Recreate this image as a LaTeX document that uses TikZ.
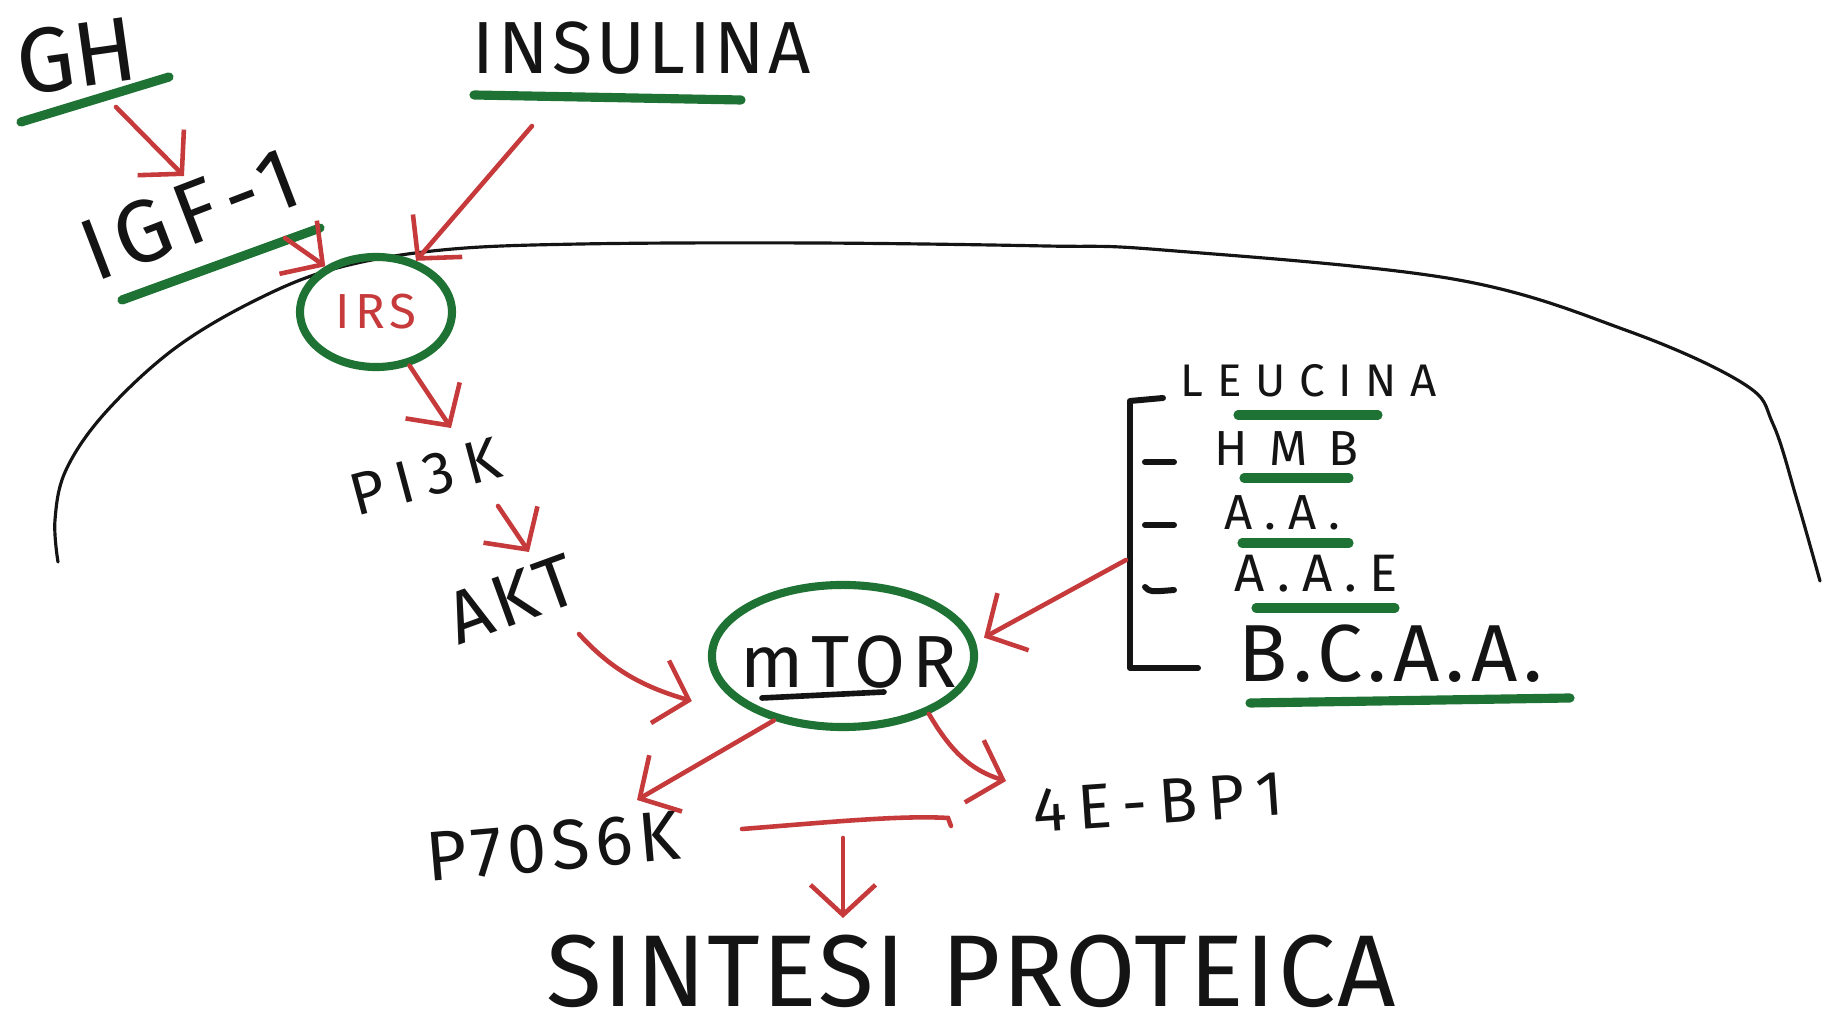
\documentclass[tikz,border=0pt]{standalone}
\usepackage{fontspec}
\setmainfont{Fira Sans}
\newfontfamily\hand{Fira Sans}
\usetikzlibrary{arrows.meta,shapes.geometric,calc}
\definecolor{mkred}{HTML}{C63A3B}
\definecolor{mkgreen}{HTML}{1E7234}
\definecolor{mkblack}{HTML}{141414}

\tikzset{
  hw/.style 2 args={inner sep=0pt, text=mkblack,
    font={\hand\fontsize{#1}{#1}\selectfont\addfontfeature{LetterSpace=#2}}},
  ring/.style={ellipse, draw=mkgreen, line width=2.3pt, inner sep=0pt},
  arr/.style={draw=mkred, line width=1.3pt, line cap=round,
    -{Straight Barb[length=3mm,width=6.5mm,line width=1.3pt]}},
  redline/.style={draw=mkred, line width=1.3pt, line cap=round},
  uline/.style={draw=mkgreen, line width=2.6pt, line cap=round},
  membrane/.style={draw=mkblack, line width=0.9pt, line cap=round},
  bracket/.style={draw=mkblack, line width=1.7pt, line cap=round, line join=round},
}

\begin{document}
\begin{tikzpicture}[x=0.01cm, y=-0.01cm]
\useasboundingbox (0,0) rectangle (1823,1028);
\fill[white] (0,0) rectangle (1823,1028);

% cell membrane
\draw[membrane] plot[smooth, tension=0.6] coordinates {
  (58,562) (55,520) (66,470) (105,413) (174,349) (256,300) (337,268)
  (442,250) (581,244) (814,243) (1046,246) (1163,250) (1453,279)
  (1628,331) (1744,384) (1773,424) (1797,500) (1820,581)};

% hormones
\node[hw={26}{0}, rotate=8] (gh) at (76,56) {GH};
\draw[uline] (21,122) -- (169,77);
\node[hw={21}{5}] (insulina) at (642,48) {INSULINA};
\draw[uline] (474,95) -- (741,100);
\node[hw={25}{10}, rotate=21] (igf) at (190,214) {IGF-1};
\draw[uline] (122,300) -- (320,228);

% receptor substrate and kinase cascade
\node[ring, minimum width=1.52cm, minimum height=1.10cm] (irs) at (376,312) {};
\node[hw={14}{10}, text=mkred] (irstxt) at (irs) {IRS};
\node[hw={17}{20}, rotate=15] (pik) at (425,477) {PI3K};
\node[hw={21}{5}, rotate=20] (akt) at (512,599) {AKT};
\node[ring, minimum width=2.62cm, minimum height=1.42cm] (mtor) at (843,656) {};
\node[hw={21}{10}] (mtortxt) at (849,662) {mTOR};
\draw[draw=mkblack, line width=1.6pt, line cap=round] (762,698) -- (884,692);

% amino acid signals
\node[hw={13}{30}, anchor=west] (leucina) at (1180,381) {LEUCINA};
\draw[uline] (1238,415) -- (1378,415);
\node[hw={14}{43}, anchor=west] (hmb) at (1214,449) {HMB};
\draw[uline] (1244,478) -- (1349,478);
\node[hw={14}{24}, anchor=west] (aa) at (1224,513) {A.A.};
\draw[uline] (1242,543) -- (1349,543);
\node[hw={15}{23}, anchor=west] (aae) at (1234,574) {A.A.E};
\draw[uline] (1256,608) -- (1395,608);
\node[hw={23}{7}, anchor=west] (bcaa) at (1238,654) {B.C.A.A.};
\draw[uline] (1250,703) -- (1570,698);
\draw[bracket] (1163,398) -- (1130,401) -- (1130,668) -- (1198,668);
\draw[bracket] (1145,462) -- (1174,462);
\draw[bracket] (1145,525) -- (1174,525);
\draw[bracket] (1145,587) .. controls (1150,592) .. (1174,590);

% downstream targets
\node[hw={20}{8}, rotate=5] (p70) at (553,846) {P70S6K};
\node[hw={18}{18}, rotate=4] (ebp) at (1158,802) {4E-BP1};
\node[hw={29}{2}] (sintesi) at (971,971) {SINTESI\hspace{0.35em}PROTEICA};

% signalling arrows
\coordinate (ghA) at (116,107);  \coordinate (igfA) at (184,176);
\coordinate (igfB) at (285,238);
\coordinate (insA) at (532,126);
\coordinate (pikA) at (451,428);
\coordinate (pikB) at (498,506); \coordinate (aktA) at (529,552);
\coordinate (aktB) at (579,634);
\coordinate (brk) at (1126,560);
\coordinate (p70A) at (637,800);
\coordinate (ebpA) at (1006,781);
\coordinate (barL) at (742,829); \coordinate (barR) at (948,818);
\coordinate (barM) at (843,838); \coordinate (sinA) at (843,918);

\draw[arr] (ghA) -- (igfA);
\draw[arr] (igfB) -- (irs.138);
\draw[arr] (insA) -- (irs.52);
\draw[arr] (irs.-58) -- (pikA);
\draw[arr] (pikB) -- (aktA);
\draw[arr] (aktB) .. controls (610,668) and (640,686) .. ([xshift=-0.16cm,yshift=-0.45cm]mtor.west);
\draw[arr] (brk) -- ([xshift=0.1cm]mtor.8);
\draw[arr] (mtor.-137) -- (p70A);
\draw[arr] (mtor.-34) .. controls (950,750) and (970,770) .. (ebpA);
\draw[redline] (barL) .. controls (820,823) and (900,815) .. (barR) -- ++(3,8);
\draw[arr] (barM) -- (sinA);
\end{tikzpicture}
\end{document}
